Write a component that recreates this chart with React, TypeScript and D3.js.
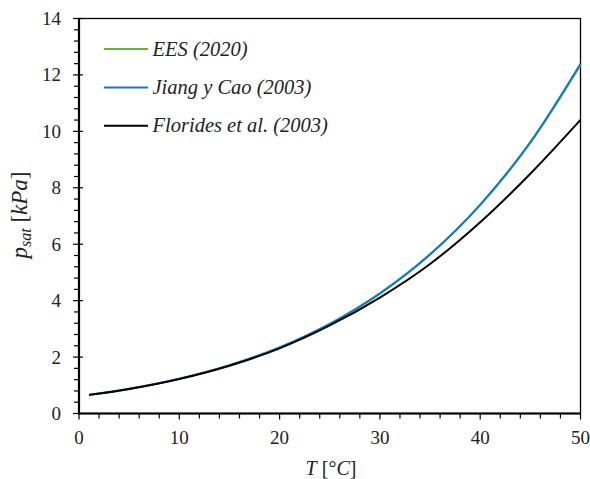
import React from "react"
import * as d3 from "d3"

// temperature points [°C]
const temps = [1, 5, 10, 15, 20, 25, 30, 35, 40, 45, 50]
// saturation pressure [kPa]
const eesValues = [0.657, 0.872, 1.228, 1.705, 2.339, 3.17, 4.247, 5.629, 7.385, 9.595, 12.35]
const jiangValues = [0.66, 0.875, 1.232, 1.71, 2.345, 3.178, 4.26, 5.645, 7.405, 9.62, 12.4]
const floridesValues = [0.66, 0.872, 1.225, 1.695, 2.31, 3.12, 4.11, 5.3, 6.78, 8.5, 10.41]

const seriesNames = ["EES (2020)", "Jiang y Cao (2003)", "Florides et al. (2003)"]
const seriesColors = ["#70ad47", "#1479bf", "#000000"]

const xTicks = [0, 10, 20, 30, 40, 50]
const yTicks = [0, 2, 4, 6, 8, 10, 12, 14]

const WIDTH = 590
const HEIGHT = 479
const FONT = "Liberation Serif"
const TEXT_COLOR = "#222"

const xScale = d3.scaleLinear().domain([0, 50]).range([79, 580.5])
const yScale = d3.scaleLinear().domain([0, 14]).range([413.5, 18.5])

const xMinor = d3.range(0, 50.01, 2).filter((v) => v % 10 !== 0)
const yMinor = d3.range(0, 14.01, 0.4).filter((v) => Math.abs(v / 2 - Math.round(v / 2)) > 0.01)

const lineGen = d3
	.line<number>()
	.x((_, i) => xScale(temps[i]))
	.y((d) => yScale(d))
	.curve(d3.curveMonotoneX)

const legendY = [49, 87.5, 125.7]

// every text element gets the font itself
const txt = (size: number, italic = false): React.CSSProperties => ({
	fontFamily: FONT,
	fontSize: `${size}px`,
	fontStyle: italic ? "italic" : "normal",
})

const App = () => {
	const allValues = [eesValues, jiangValues, floridesValues]
	const x0 = xScale(0)
	const y0 = yScale(0)

	return (
		<div style={{ position: "absolute", left: 0, top: 0, width: WIDTH, height: HEIGHT, background: "#fff" }}>
			<svg width={WIDTH} height={HEIGHT} style={{ display: "block" }}>
				{/* frame */}
				<rect
					x={x0}
					y={yScale(14)}
					width={xScale(50) - x0}
					height={y0 - yScale(14)}
					fill="none"
					stroke="#000"
					strokeWidth={1.3}
				/>

				{/* x ticks */}
				{xMinor.map((d) => (
					<line key={"xm" + d} x1={xScale(d)} x2={xScale(d)} y1={y0} y2={y0 + 5} stroke="#000" strokeWidth={1.2} />
				))}
				{xTicks.map((d) => (
					<line key={"xM" + d} x1={xScale(d)} x2={xScale(d)} y1={y0} y2={y0 + 6} stroke="#000" strokeWidth={1.2} />
				))}
				{xTicks.map((d) => (
					<text key={"xl" + d} x={xScale(d)} y={444} textAnchor="middle" fill={TEXT_COLOR} style={txt(19)}>
						{d}
					</text>
				))}

				{/* y ticks */}
				{yMinor.map((d) => (
					<line key={"ym" + d} x1={x0 - 5} x2={x0} y1={yScale(d)} y2={yScale(d)} stroke="#000" strokeWidth={1.2} />
				))}
				{yTicks.map((d) => (
					<line key={"yM" + d} x1={x0 - 6} x2={x0 + 4} y1={yScale(d)} y2={yScale(d)} stroke="#000" strokeWidth={1.2} />
				))}
				{yTicks.map((d) => (
					<text key={"yl" + d} x={61} y={yScale(d) + 6.5} textAnchor="end" fill={TEXT_COLOR} style={txt(19)}>
						{d}
					</text>
				))}

				{/* thicker left and bottom axis lines */}
				<line x1={x0} x2={x0} y1={yScale(14)} y2={y0 + 1} stroke="#000" strokeWidth={2.2} />
				<line x1={x0 - 1} x2={xScale(50)} y1={y0} y2={y0} stroke="#000" strokeWidth={2.2} />

				{/* series */}
				{allValues.map((vals, k) => (
					<path key={"s" + k} d={lineGen(vals) || ""} fill="none" stroke={seriesColors[k]} strokeWidth={2} />
				))}

				{/* legend */}
				{seriesNames.map((name, k) => (
					<g key={"lg" + k}>
						<line x1={104} x2={148} y1={legendY[k]} y2={legendY[k]} stroke={seriesColors[k]} strokeWidth={2} />
						<text x={152.5} y={legendY[k] + 6.5} fill={TEXT_COLOR} style={txt(20.5, true)}>
							{name}
						</text>
					</g>
				))}

				{/* x title */}
				<text x={331} y={475} textAnchor="middle" fill={TEXT_COLOR} style={txt(20)}>
					<tspan style={txt(20, true)}>T</tspan>
					<tspan style={txt(20)}> [°</tspan>
					<tspan style={txt(20, true)}>C</tspan>
					<tspan style={txt(20)}>]</tspan>
				</text>

				{/* y title */}
				<text transform="translate(27,215) rotate(-90)" textAnchor="middle" fill={TEXT_COLOR} style={txt(23)}>
					<tspan style={txt(23, true)}>p</tspan>
					<tspan dy={4} style={txt(16, true)}>
						sat
					</tspan>
					<tspan dy={-4} style={txt(23)}> [</tspan>
					<tspan style={txt(23, true)}>kPa</tspan>
					<tspan style={txt(23)}>]</tspan>
				</text>
			</svg>
		</div>
	)
}

export default App
